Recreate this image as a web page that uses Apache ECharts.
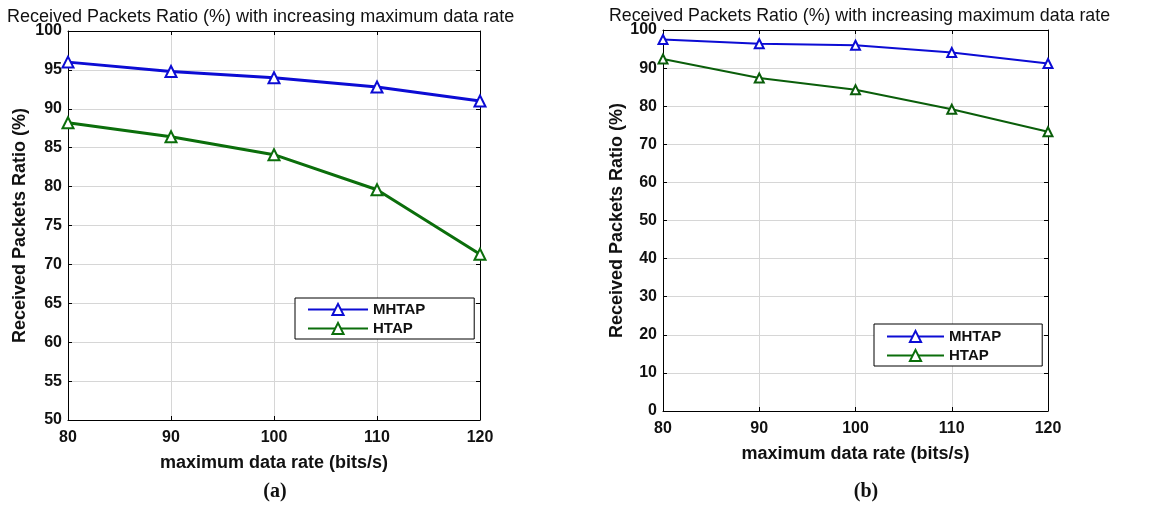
<!DOCTYPE html>
<html>
<head>
<meta charset="utf-8">
<script src="https://cdn.jsdelivr.net/npm/echarts@6/dist/echarts.min.js"></script>
<style>
  html, body { margin: 0; padding: 0; background: #fff; }
  #chart { width: 1159px; height: 506px; }
</style>
</head>
<body>
<div id="chart"></div>
<script>
// data
var rates = [80, 90, 100, 110, 120]
var mhtapA = [96.0, 94.8, 94.0, 92.8, 91.0]
var htapA = [88.2, 86.4, 84.1, 79.6, 71.3]
var mhtapB = [97.5, 96.4, 96.0, 94.1, 91.2]
var htapB = [92.4, 87.4, 84.3, 79.2, 73.3]

var titleText = 'Received Packets Ratio (%) with increasing maximum data rate'
var yName = 'Received Packets Ratio (%)'
var xName = 'maximum data rate (bits/s)'

var blue = '#0c0cd4'
var green = '#0b6e0b'
var greenB = '#0a5e0a'
var font = 'Liberation Sans, Arial, sans-serif'

function pairs(ys) {
  return rates.map(function(x, i) { return [x, ys[i]] })
}

function xAxisOf(gi) {
  return {
    type: 'value', gridIndex: gi, min: 80, max: 120, interval: 10,
    name: xName, nameLocation: 'middle', nameGap: 34,
    nameTextStyle: { fontFamily: font, fontWeight: 'bold', fontSize: 18, color: '#111' },
    axisLine: { show: true, lineStyle: { color: '#000', width: 1 } },
    axisTick: { show: true, inside: true, length: 4, lineStyle: { color: '#000' } },
    axisLabel: { fontFamily: font, fontWeight: 'bold', fontSize: 16, color: '#111', margin: 10 },
    splitLine: { show: true, lineStyle: { color: '#d6d6d6', width: 1 } }
  }
}

function yAxisOf(gi, min, max, step, gap) {
  return {
    type: 'value', gridIndex: gi, min: min, max: max, interval: step,
    name: yName, nameLocation: 'middle', nameGap: gap, nameRotate: 90,
    nameTextStyle: { fontFamily: font, fontWeight: 'bold', fontSize: 18, color: '#111' },
    axisLine: { show: true, lineStyle: { color: '#000', width: 1 } },
    axisTick: { show: true, inside: true, length: 4, lineStyle: { color: '#000' } },
    axisLabel: { fontFamily: font, fontWeight: 'bold', fontSize: 16, color: '#111', margin: 6 },
    splitLine: { show: true, lineStyle: { color: '#d6d6d6', width: 1 } }
  }
}

// box edges on the top and right, ticks only
function edgeAxis(kind, gi, min, max, step) {
  return {
    type: 'value', gridIndex: gi, min: min, max: max, interval: step,
    position: kind === 'x' ? 'top' : 'right',
    axisLine: { show: true, onZero: false, lineStyle: { color: '#000', width: 1 } },
    axisTick: { show: true, inside: true, length: 4, lineStyle: { color: '#000' } },
    axisLabel: { show: false },
    splitLine: { show: false }
  }
}

function lineOf(name, gi, ys, color, width, size) {
  return {
    name: name, type: 'line', xAxisIndex: gi, yAxisIndex: gi,
    data: pairs(ys),
    symbol: 'emptyTriangle', symbolSize: size,
    lineStyle: { color: color, width: width },
    itemStyle: { color: color, borderColor: color, borderWidth: width },
    animation: false
  }
}

var legendText = { fontFamily: font, fontWeight: 'bold', fontSize: 15, color: '#111' }

var chart = echarts.init(document.getElementById('chart'))
chart.setOption({
  backgroundColor: '#fff',
  title: [
    { text: titleText, left: 2, top: 3, textStyle: { fontFamily: font, fontWeight: 'normal', fontSize: 18, color: '#111' } },
    { text: titleText, left: 604, top: 2, textStyle: { fontFamily: font, fontWeight: 'normal', fontSize: 17.8, color: '#111' } },
    { text: '(a)', left: 270, top: 477, textAlign: 'center', textStyle: { fontFamily: 'Liberation Serif, serif', fontWeight: 'bold', fontSize: 20, color: '#111' } },
    { text: '(b)', left: 861, top: 477, textAlign: 'center', textStyle: { fontFamily: 'Liberation Serif, serif', fontWeight: 'bold', fontSize: 20, color: '#111' } }
  ],
  grid: [
    { left: 68, top: 31, width: 412, height: 389 },
    { left: 663, top: 30, width: 385, height: 381 }
  ],
  legend: [
    {
      left: 295, top: 298, orient: 'vertical',
      data: ['MHTAP', 'HTAP'],
      itemWidth: 60, itemHeight: 14, itemGap: 4,
      padding: [4, 49, 3, 12],
      borderColor: '#000', borderWidth: 1, backgroundColor: '#fff',
      textStyle: legendText
    },
    {
      left: 874, top: 324, orient: 'vertical',
      data: ['MHTAP', 'HTAP'],
      itemWidth: 57, itemHeight: 14, itemGap: 4,
      padding: [5, 41, 3, 12],
      borderColor: '#000', borderWidth: 1, backgroundColor: '#fff',
      textStyle: legendText
    }
  ],
  xAxis: [xAxisOf(0), xAxisOf(1), edgeAxis('x', 0, 80, 120, 10), edgeAxis('x', 1, 80, 120, 10)],
  yAxis: [yAxisOf(0, 50, 100, 5, 39), yAxisOf(1, 0, 100, 10, 36), edgeAxis('y', 0, 50, 100, 5), edgeAxis('y', 1, 0, 100, 10)],
  series: [
    lineOf('MHTAP', 0, mhtapA, blue, 3, 11),
    lineOf('HTAP', 0, htapA, green, 3, 11),
    lineOf('MHTAP', 1, mhtapB, blue, 2, 9),
    lineOf('HTAP', 1, htapB, greenB, 2, 9)
  ]
})
</script>
</body>
</html>
